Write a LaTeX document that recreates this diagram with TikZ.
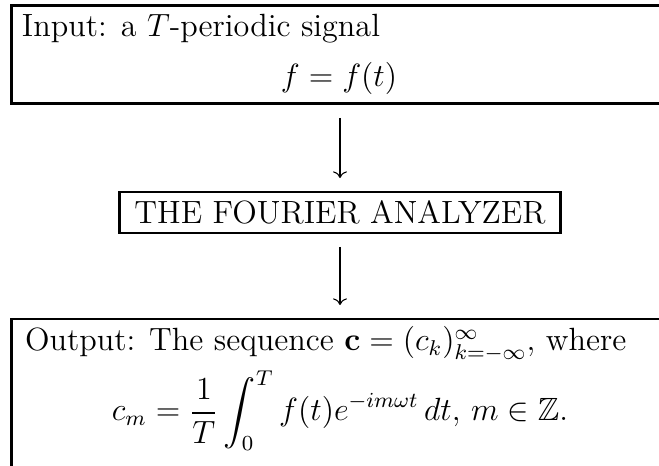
\documentclass[12pt,tikz,border=0pt]{standalone}
\usepackage{amsmath,amssymb}
\usetikzlibrary{arrows.meta, positioning, calc}
\tikzset{
  every picture/.style={line width=1.1pt},
  frame/.style={draw, line width=1.1pt, inner sep=0pt, outer sep=0pt, align=center},
  arrow/.style={-{Computer Modern Rightarrow}, line width=0.4pt, shorten <=5.2pt, shorten >=5.2pt},
  txt/.style={inner sep=0pt, outer sep=0pt},
}
\begin{document}
\begin{tikzpicture}[x=0.3731pt, y=-0.3731pt]
  \useasboundingbox (0,0) rectangle (659,466);
  \clip (0,0) rectangle (659,466);
  \node[frame, minimum width=244.8pt, minimum height=36.9pt] (inbox) at (340,54.5) {};
  \node[txt, anchor=base west] (intxt) at (22,37) {Input: a $T$-periodic signal};
  \node[txt, anchor=base] (infun) at (339,87) {$f=f(t)$};
  \node[frame, minimum width=164.2pt, minimum height=15.3pt] (analyzer) at (340,212.5) {THE FOURIER ANALYZER};
  \node[frame, minimum width=244.8pt, minimum height=60pt, anchor=north] (outbox) at (340,319) {};
  \node[txt, anchor=base west] (outtxt) at (25,351) {Output: The sequence $\mathbf{c}=(c_k)_{k=-\infty}^{\infty}$, where};
  \node[txt, anchor=base] (outfun) at (340,421) {$\displaystyle c_m=\frac{1}{T}\int_0^T f(t)e^{-im\omega t}\,dt$, $m\in\mathbb{Z}$.};
  \draw[arrow] (inbox.south) -- (analyzer.north);
  \draw[arrow] (analyzer.south) -- (outbox.north);
\end{tikzpicture}
\end{document}
